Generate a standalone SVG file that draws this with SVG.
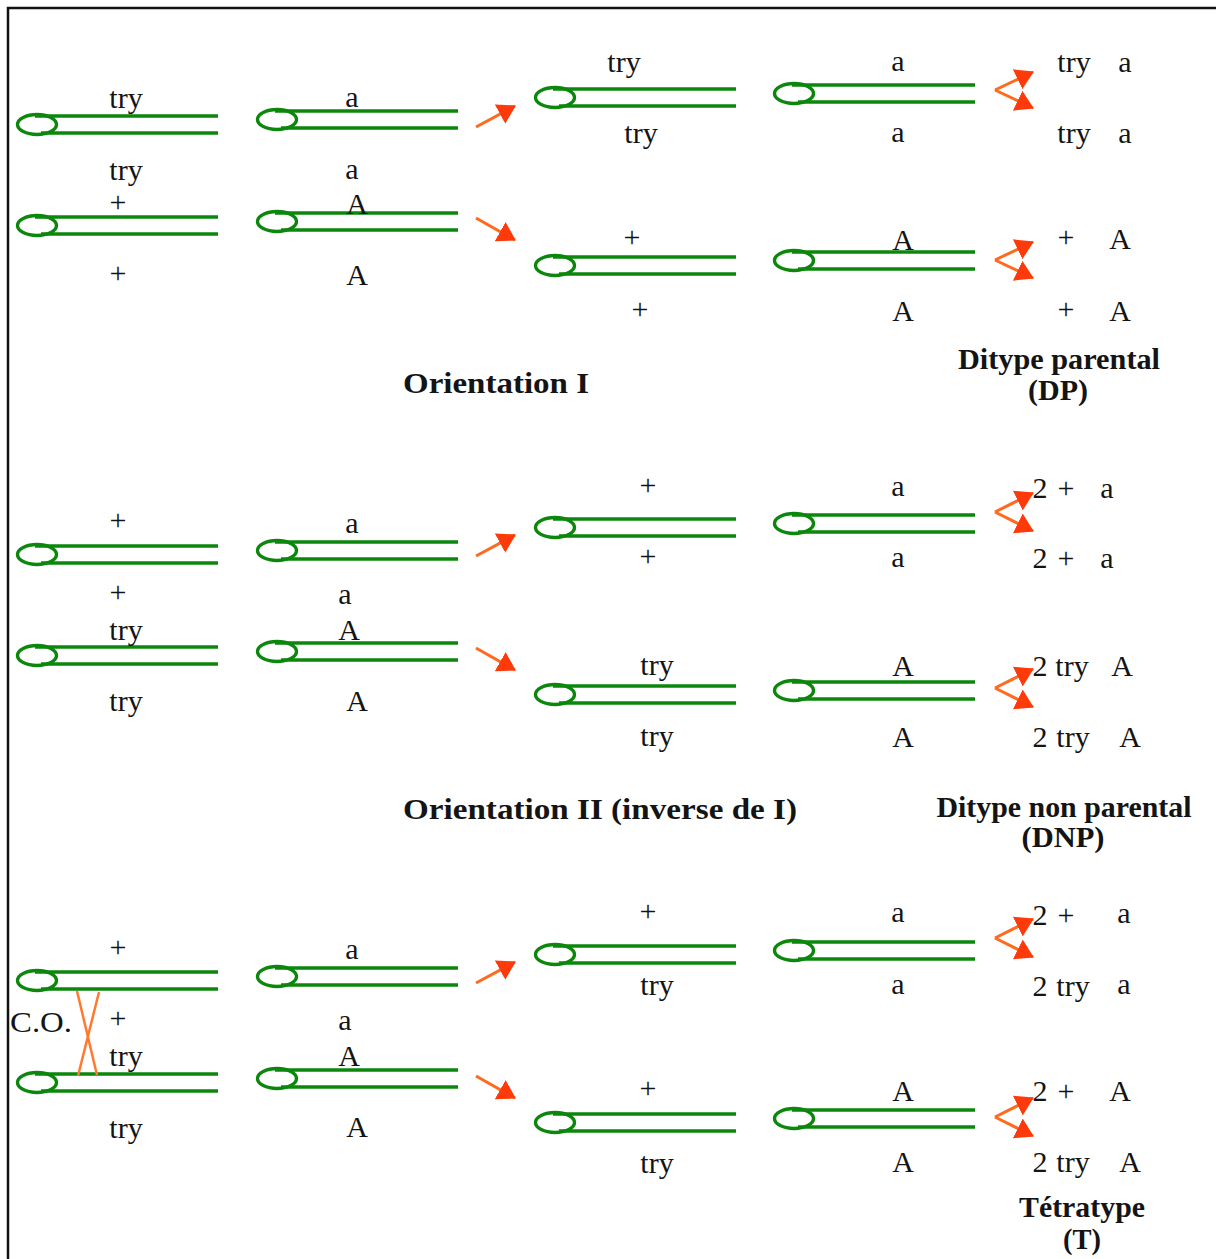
<svg xmlns="http://www.w3.org/2000/svg" xmlns:xlink="http://www.w3.org/1999/xlink" width="1216" height="1259" viewBox="0 0 1216 1259">
  <style>
    .chr ellipse, .chr path { fill: none; stroke: #0b870b; stroke-width: 3.4; }
    text { font-family: "Liberation Serif", "Times New Roman", serif; font-size: 30px; fill: #141414; text-anchor: middle; }
    .title { font-weight: bold; font-size: 29px; }
    .arrow { stroke: #ff6a1e; stroke-width: 3; fill: none; marker-end: url(#head); }
    .co { stroke: #ff7a30; stroke-width: 2.5; fill: none; }
  </style>
  <defs>
    <!-- chromosome: centromere loop plus two chromatids -->
    <g id="chr" class="chr">
      <ellipse cx="20" cy="8.5" rx="19.5" ry="10"/>
      <path d="M18 0 H201 M24 17 H201"/>
    </g>
    <marker id="head" viewBox="0 0 18 22" refX="17" refY="11" markerWidth="18" markerHeight="22" markerUnits="userSpaceOnUse" orient="auto">
      <path d="M0 0 L18 11 L0 22 Z" fill="#ff3a0a"/>
    </marker>
  </defs>

  <!-- frame -->
  <rect x="8" y="8" width="1250" height="1300" fill="none" stroke="#111" stroke-width="2.5"/>

  <!-- ===== Orientation I ===== -->
  <g id="o1-a1"><use href="#chr" x="17" y="116"/><text x="126" y="108">try</text><text x="126" y="180">try</text></g>
  <g id="o1-b1"><use href="#chr" x="257" y="111"/><text x="352" y="107">a</text><text x="352" y="179">a</text></g>
  <g id="o1-a2"><use href="#chr" x="17" y="217"/><text x="118" y="212">+</text><text x="118" y="283">+</text></g>
  <g id="o1-b2"><use href="#chr" x="257" y="213"/><text x="357" y="214">A</text><text x="357" y="285">A</text></g>
  <g id="o1-c1"><use href="#chr" x="535" y="89"/><text x="624" y="72">try</text><text x="641" y="143">try</text></g>
  <g id="o1-d1"><use href="#chr" x="774" y="85"/><text x="898" y="71">a</text><text x="898" y="142">a</text></g>
  <g id="o1-c2"><use href="#chr" x="535" y="257"/><text x="632" y="247">+</text><text x="640" y="319">+</text></g>
  <g id="o1-d2"><use href="#chr" x="774" y="252"/><text x="903" y="250">A</text><text x="903" y="321">A</text></g>
  <g id="o1-spores">
    <text x="1074" y="72">try</text><text x="1125" y="72">a</text>
    <text x="1074" y="143">try</text><text x="1125" y="143">a</text>
    <text x="1066" y="247">+</text><text x="1120" y="249">A</text>
    <text x="1066" y="319">+</text><text x="1120" y="321">A</text>
  </g>
  <g id="o1-labels">
    <text class="title" x="496" y="393" textLength="186" lengthAdjust="spacingAndGlyphs">Orientation I</text>
    <text class="title" x="1059" y="369" textLength="202" lengthAdjust="spacingAndGlyphs">Ditype parental</text>
    <text class="title" x="1058" y="400" textLength="60" lengthAdjust="spacingAndGlyphs">(DP)</text>
  </g>

  <!-- ===== Orientation II ===== -->
  <g id="o2-a1"><use href="#chr" x="17" y="546"/><text x="118" y="530">+</text><text x="118" y="602">+</text></g>
  <g id="o2-b1"><use href="#chr" x="257" y="542"/><text x="352" y="533">a</text><text x="345" y="604">a</text></g>
  <g id="o2-a2"><use href="#chr" x="17" y="647"/><text x="126" y="640">try</text><text x="126" y="711">try</text></g>
  <g id="o2-b2"><use href="#chr" x="257" y="643"/><text x="349" y="640">A</text><text x="357" y="711">A</text></g>
  <g id="o2-c1"><use href="#chr" x="535" y="519"/><text x="648" y="495">+</text><text x="648" y="566">+</text></g>
  <g id="o2-d1"><use href="#chr" x="774" y="515"/><text x="898" y="496">a</text><text x="898" y="567">a</text></g>
  <g id="o2-c2"><use href="#chr" x="535" y="686"/><text x="657" y="675">try</text><text x="657" y="746">try</text></g>
  <g id="o2-d2"><use href="#chr" x="774" y="682"/><text x="903" y="676">A</text><text x="903" y="747">A</text></g>
  <g id="o2-spores">
    <text x="1040" y="498">2</text><text x="1066" y="498">+</text><text x="1107" y="498">a</text>
    <text x="1040" y="568">2</text><text x="1066" y="568">+</text><text x="1107" y="568">a</text>
    <text x="1040" y="676">2</text><text x="1072" y="676">try</text><text x="1122" y="676">A</text>
    <text x="1040" y="747">2</text><text x="1073" y="747">try</text><text x="1130" y="747">A</text>
  </g>
  <g id="o2-labels">
    <text class="title" x="600" y="819" textLength="394" lengthAdjust="spacingAndGlyphs">Orientation II (inverse de I)</text>
    <text class="title" x="1064" y="817" textLength="255" lengthAdjust="spacingAndGlyphs">Ditype non parental</text>
    <text class="title" x="1063" y="847" textLength="83" lengthAdjust="spacingAndGlyphs">(DNP)</text>
  </g>

  <!-- ===== Crossing-over ===== -->
  <g id="co-a1"><use href="#chr" x="17" y="972"/><text x="118" y="957">+</text><text x="118" y="1028">+</text></g>
  <g id="co-b1"><use href="#chr" x="257" y="968"/><text x="352" y="959">a</text><text x="345" y="1030">a</text></g>
  <g id="co-a2"><use href="#chr" x="17" y="1074"/><text x="126" y="1066">try</text><text x="126" y="1138">try</text></g>
  <g id="co-b2"><use href="#chr" x="257" y="1070"/><text x="349" y="1066">A</text><text x="357" y="1137">A</text></g>
  <g id="co-cross">
    <path class="co" d="M77 991 L97 1075 M99 992 L78 1076"/>
    <text x="10" y="1032" style="text-anchor:start" textLength="62" lengthAdjust="spacingAndGlyphs">C.O.</text>
  </g>
  <g id="co-c1"><use href="#chr" x="535" y="946"/><text x="648" y="921">+</text><text x="657" y="995">try</text></g>
  <g id="co-d1"><use href="#chr" x="774" y="942"/><text x="898" y="922">a</text><text x="898" y="994">a</text></g>
  <g id="co-c2"><use href="#chr" x="535" y="1114"/><text x="648" y="1098">+</text><text x="657" y="1173">try</text></g>
  <g id="co-d2"><use href="#chr" x="774" y="1110"/><text x="903" y="1101">A</text><text x="903" y="1172">A</text></g>
  <g id="co-spores">
    <text x="1040" y="925">2</text><text x="1066" y="925">+</text><text x="1124" y="923">a</text>
    <text x="1040" y="996">2</text><text x="1073" y="996">try</text><text x="1124" y="994">a</text>
    <text x="1040" y="1101">2</text><text x="1066" y="1101">+</text><text x="1120" y="1101">A</text>
    <text x="1040" y="1172">2</text><text x="1073" y="1172">try</text><text x="1130" y="1172">A</text>
  </g>
  <g id="co-labels">
    <text class="title" x="1082" y="1217" textLength="126" lengthAdjust="spacingAndGlyphs">Tétratype</text>
    <text class="title" x="1082" y="1249" textLength="38" lengthAdjust="spacingAndGlyphs">(T)</text>
  </g>

  <!-- ===== connectors ===== -->
  <g id="connectors">
    <!-- segregation arrows -->
    <path class="arrow" d="M476 127 L515 106"/>
    <path class="arrow" d="M476 218 L515 240"/>
    <path class="arrow" d="M476 556 L515 535"/>
    <path class="arrow" d="M476 648 L515 670"/>
    <path class="arrow" d="M476 983 L515 962"/>
    <path class="arrow" d="M476 1076 L515 1098"/>
    <!-- second-division forks -->
    <path class="arrow" d="M995 90 L1033 72"/>
    <path class="arrow" d="M995 90 L1033 108"/>
    <path class="arrow" d="M995 260 L1033 242"/>
    <path class="arrow" d="M995 260 L1033 278"/>
    <path class="arrow" d="M995 512 L1033 493"/>
    <path class="arrow" d="M995 512 L1033 531"/>
    <path class="arrow" d="M995 688 L1033 669"/>
    <path class="arrow" d="M995 688 L1033 707"/>
    <path class="arrow" d="M995 938 L1033 919"/>
    <path class="arrow" d="M995 938 L1033 957"/>
    <path class="arrow" d="M995 1117 L1033 1098"/>
    <path class="arrow" d="M995 1117 L1033 1136"/>
  </g>
</svg>
